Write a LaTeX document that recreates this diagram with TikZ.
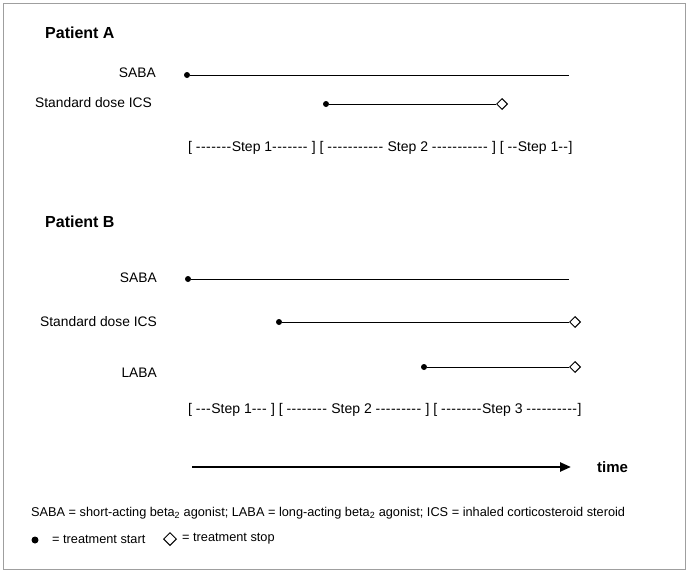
\documentclass[tikz,border=0pt]{standalone}
\usepackage{fontspec}
\setmainfont{Liberation Sans}[Ligatures=TeXOff]
\usetikzlibrary{shapes.geometric,arrows.meta}
\ExplSyntaxOn
\NewDocumentCommand\hd{m}{\prg_replicate:nn{#1}{-\kern0.45pt\relax}}
\ExplSyntaxOff
\begin{document}
\begin{tikzpicture}[x=1pt,y=-1pt,
  lbl/.style={anchor=east,font=\fontsize{13.8}{16}\selectfont,inner sep=0},
  head/.style={anchor=west,font=\fontsize{16}{18}\selectfont\bfseries,inner sep=0},
  steptext/.style={anchor=west,font=\fontsize{14}{16}\selectfont,inner sep=0},
  legtext/.style={anchor=west,font=\fontsize{12.75}{15}\selectfont,inner sep=0},
  startdot/.style={circle,fill=black,inner sep=0,minimum size=6},
  stopdia/.style={diamond,draw=black,fill=white,line width=1,inner sep=0,minimum size=11},
  tl/.style={line width=0.9}]
\useasboundingbox (0,0) rectangle (689,573);
\draw[gray!75,line width=1.3] (3.5,3.5) rectangle (685.5,569.5);

% Patient A
\node[head] (pa) at (45,33) {Patient A};
\node[lbl] (asaba) at (156,73) {SABA};
\node[startdot] (asaba1) at (187,75) {};
\coordinate (asaba2) at (569,75);
\draw[tl] (asaba1) -- (asaba2);
\node[lbl] (aics) at (152,103) {Standard dose ICS};
\node[startdot] (aics1) at (326,104) {};
\node[stopdia] (aics2) at (502,104) {};
\draw[tl] (aics1) -- (aics2);
\node[steptext] (asteps) at (188,148) {[ \hd{7}Step 1\hd{7} ] [ \hd{11} Step 2 \hd{11} ] [ \hd{2}Step 1\hd{2}]};

% Patient B
\node[head] (pb) at (45,222) {Patient B};
\node[lbl] (bsaba) at (157,278) {SABA};
\node[startdot] (bsaba1) at (188,279) {};
\coordinate (bsaba2) at (569,279);
\draw[tl] (bsaba1) -- (bsaba2);
\node[lbl] (bics) at (157,322) {Standard dose ICS};
\node[startdot] (bics1) at (279,322) {};
\node[stopdia] (bics2) at (575,322) {};
\draw[tl] (bics1) -- (bics2);
\node[lbl] (blaba) at (157,373) {LABA};
\node[startdot] (blaba1) at (424,367) {};
\node[stopdia] (blaba2) at (575,367) {};
\draw[tl] (blaba1) -- (blaba2);
\node[steptext] (bsteps) at (188,410) {[ \hd{3}Step 1\hd{3} ] [ \hd{8} Step 2 \hd{9} ] [ \hd{8}Step 3 \hd{10}]};

% time arrow
\coordinate (t1) at (192,467);
\coordinate (t2) at (571,467);
\draw[line width=2.4,-{Triangle[length=11,width=9]}] (t1) -- (t2);
\node[head,font=\fontsize{15}{18}\selectfont\bfseries] (time) at (597,467) {time};

% legend
\node[legtext] (leg1) at (31,513) {SABA = short-acting beta\textsubscript{2} agonist; LABA = long-acting beta\textsubscript{2} agonist; ICS = inhaled corticosteroid steroid};
\node[startdot,minimum size=7] (ldot) at (35,540) {};
\node[legtext] (lstart) at (52,539) {= treatment start};
\node[stopdia,minimum size=13] (ldia) at (170,539) {};
\node[legtext] (lstop) at (182,539) {= treatment stop};
\end{tikzpicture}
\end{document}
